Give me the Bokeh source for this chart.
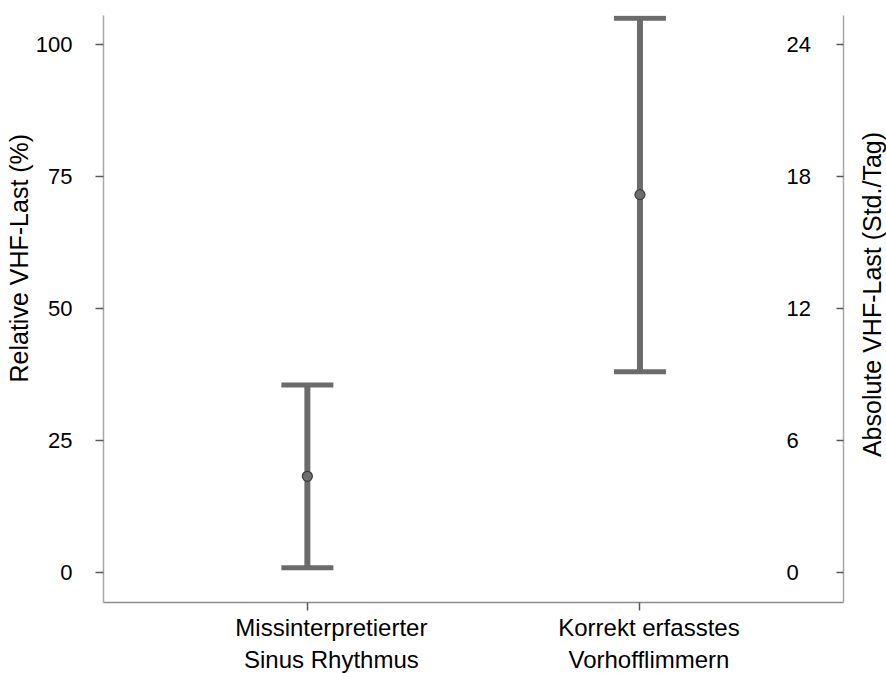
import math
from bokeh.plotting import figure
from bokeh.layouts import row
from bokeh.models import (ColumnDataSource, Whisker, TeeHead, Range1d, LinearAxis,
                          FixedTicker, Title, Label)
from bokeh.embed import file_html
from bokeh.resources import INLINE

# ---- data ----
categories = ["Missinterpretierter\nSinus Rhythmus", "Korrekt erfasstes\nVorhofflimmern"]
mean_pct = [18.2, 71.5]
lower_pct = [0.9, 38.0]
upper_pct = [35.5, 104.9]
left_ticks = [0, 25, 50, 75, 100]
right_ticks = [0, 6, 12, 18, 24]
hours_per_day = 24
left_title = "Relative VHF-Last (%)"
right_title = "Absolute VHF-Last (Std./Tag)"

positions = [i + 1 for i in range(len(categories))]
src = ColumnDataSource(dict(x=positions, mean=mean_pct, lower=lower_pct, upper=upper_pct))

FONT = "Liberation Sans"
BAR = "#6b6b6b"
AXIS_LINE = "#a8a8a8"
TICK = "#5a5a5a"

FRAME_W, FRAME_H = 740, 587
TOP, BOTTOM, LEFT, RIGHT = 15, 71, 103, 2
STRIP_W = 41
x_start, x_end = 0.387, 2.612
y_start, y_end = -5.68, 105.4

p = figure(frame_width=FRAME_W, frame_height=FRAME_H,
           min_border_left=LEFT, min_border_right=RIGHT, min_border_top=TOP,
           min_border_bottom=BOTTOM,
           x_range=Range1d(x_start, x_end), y_range=Range1d(y_start, y_end),
           output_backend="svg", toolbar_location=None)
p.outline_line_color = None
p.grid.visible = False
p.background_fill_color = "white"
p.border_fill_color = "white"

w = Whisker(base="x", upper="upper", lower="lower", source=src,
            line_color=BAR, line_width=6,
            upper_head=TeeHead(size=52, line_color=BAR, line_width=5),
            lower_head=TeeHead(size=52, line_color=BAR, line_width=5))
p.add_layout(w)
p.scatter("x", "mean", source=src, size=10, fill_color="#6e6e6e",
          line_color="#3c3c3c", line_width=1.2)

# left axis
ax = p.yaxis[0]
ax.ticker = FixedTicker(ticks=left_ticks)
ax.major_label_text_font = FONT
ax.major_label_text_font_size = "22px"
ax.major_label_text_color = "black"
ax.major_label_standoff = 23
ax.major_tick_out = 8
ax.major_tick_in = 0
ax.minor_tick_line_color = None
ax.axis_line_color = AXIS_LINE
ax.axis_line_width = 1.5
ax.major_tick_line_color = TICK
ax.major_tick_line_width = 1.5

# left title (reads bottom-to-top, starting 220 px above the frame bottom)
p.add_layout(Title(text=left_title, align="left", offset=220, standoff=0,
                   text_font=FONT, text_font_size="25px", text_font_style="normal",
                   text_color="black"), "left")

# right axis (hours per day), labels drawn inside the frame
p.extra_y_ranges = {"abs": Range1d(y_start * hours_per_day / 100, y_end * hours_per_day / 100)}
rax = LinearAxis(y_range_name="abs", ticker=FixedTicker(ticks=right_ticks))
rax.major_label_text_font = FONT
rax.major_label_text_font_size = "22px"
rax.major_label_text_color = "black"
rax.major_label_standoff = -57
rax.major_tick_in = 7
rax.major_tick_out = 0
rax.minor_tick_line_color = None
rax.axis_line_color = AXIS_LINE
rax.axis_line_width = 1.5
rax.major_tick_line_color = TICK
rax.major_tick_line_width = 1.5
p.add_layout(rax, "right")

# bottom axis: tick marks at the categories
bx = p.xaxis[0]
bx.ticker = FixedTicker(ticks=positions)
bx.major_label_overrides = {pos: "" for pos in positions}
bx.major_label_text_font_size = "0px"
bx.major_label_standoff = 0
bx.major_tick_out = 8
bx.major_tick_in = 0
bx.minor_tick_line_color = None
bx.axis_line_color = "#8c8c8c"
bx.axis_line_width = 1.5
bx.major_tick_line_color = TICK
bx.major_tick_line_width = 1.5

# category labels: a second, line-less axis whose labels sit slightly right of each tick
px_per_unit = FRAME_W / (x_end - x_start)
label_shift_px = [24, 9]
label_pos = [pos + dx / px_per_unit for pos, dx in zip(positions, label_shift_px)]
lax = LinearAxis(ticker=FixedTicker(ticks=label_pos),
                 major_label_overrides={lp: text for lp, text in zip(label_pos, categories)})
lax.axis_line_color = None
lax.major_tick_line_color = None
lax.minor_tick_line_color = None
lax.major_tick_out = 0
lax.major_tick_in = 0
lax.major_label_standoff = 3
lax.major_label_text_font = FONT
lax.major_label_text_font_size = "24px"
lax.major_label_text_color = "black"
lax.major_label_text_line_height = 1.2
p.add_layout(lax, "below")

# narrow strip on the right carrying the right-hand axis title (bottom-to-top)
strip = figure(frame_width=STRIP_W, frame_height=FRAME_H,
               min_border_left=0, min_border_right=0, min_border_top=TOP,
               min_border_bottom=BOTTOM,
               x_range=Range1d(0, STRIP_W), y_range=p.y_range,
               x_axis_location=None, y_axis_location=None,
               output_backend="svg", toolbar_location=None)
strip.outline_line_color = None
strip.grid.visible = False
strip.background_fill_color = "white"
strip.border_fill_color = "white"
right_title_centre = 52.6  # on the percent scale
strip.add_layout(Label(x=26.5, y=right_title_centre, text=right_title, angle=math.pi / 2,
                       text_align="center", text_baseline="middle",
                       text_font=FONT, text_font_size="25px", text_color="black"))

layout = row(p, strip, spacing=0)
open("out.html", "w").write(file_html(layout, INLINE))
